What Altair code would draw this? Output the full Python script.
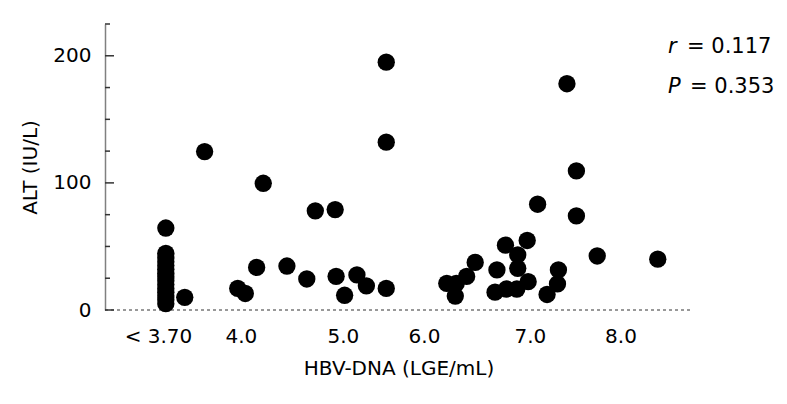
import altair as alt
import pandas as pd

# HBV-DNA (log) and ALT values
hbv = [3.19] * 15 + [3.39,
       3.60, 3.95, 4.03, 4.15, 4.22, 4.47, 4.68, 4.77, 4.98, 4.99, 5.08, 5.21,
       5.31, 5.52, 5.52, 5.52, 6.16, 6.26, 6.25, 6.37, 6.46, 6.69, 6.67, 6.78,
       7.01, 6.91, 6.91, 6.79, 6.90, 7.02, 7.12, 7.34, 7.33, 7.22, 7.43, 7.53,
       7.53, 7.75, 8.39]
alt_vals = [64.5, 44.6, 41, 38, 35, 32, 29, 26, 23, 20, 17, 14, 11, 8, 5, 10,
            124.6, 17, 13, 33.5, 99.7, 34.6, 24.4, 78, 79, 26.5, 11.6, 27.6,
            19, 17, 132, 195, 21, 21, 11, 26.4, 37.4, 31.5, 14, 51,
            54.7, 43.3, 32.8, 16.5, 16.5, 22.3, 83.2, 31.5, 20.5, 12.2, 178, 109.4,
            74, 42.5, 40]

x_tick_pos = [3.107, 3.984, 5.062, 5.919, 7.039, 7.996]
x_tick_labels = ["< 3.70", "4.0", "5.0", "6.0", "7.0", "8.0"]
y_major = [0, 100, 200]
y_minor = [25, 50, 75, 125, 150, 175, 225]
notes_var = ["r", "P"]
notes_val = ["= 0.117", "= 0.353"]

W, H = 587, 286
FONT = "DejaVu Sans"

df = pd.DataFrame({"hbv": hbv, "alt": alt_vals})

label_expr = " : ".join(
    f"abs(datum.value - {v}) < 0.001 ? '{t}'" for v, t in zip(x_tick_pos, x_tick_labels)
) + " : ''"

xscale = alt.Scale(domain=[2.547, 8.752], nice=False, zero=False)
yscale = alt.Scale(domain=[0, 225], nice=False)

points = alt.Chart(df).mark_circle(size=300, color="black", opacity=1).encode(
    x=alt.X("hbv:Q", scale=xscale,
            axis=alt.Axis(values=x_tick_pos, labelExpr=label_expr, domain=False,
                          ticks=False, grid=False, labelFontSize=20, labelFont=FONT,
                          labelColor="black", labelPadding=16, labelFlush=False,
                          labelOverlap=False,
                          title="HBV-DNA (LGE/mL)", titleFontSize=20, titleFont=FONT,
                          titleFontWeight="normal", titleColor="black", titlePadding=12)),
    y=alt.Y("alt:Q", scale=yscale,
            axis=alt.Axis(values=y_major, domain=True, domainColor="#808080",
                          domainWidth=1.5, ticks=False, grid=False,
                          labelFontSize=20, labelFont=FONT, labelColor="black",
                          labelPadding=14, labelFlush=False,
                          title="ALT (IU/L)", titleFontSize=20, titleFont=FONT,
                          titleFontWeight="normal", titleColor="black", titlePadding=12)),
)

zero_line = alt.Chart(pd.DataFrame({"y": [0]})).mark_rule(
    color="#333333", strokeDash=[3, 3], strokeWidth=1
).encode(y=alt.Y("y:Q", scale=yscale), x=alt.value(0), x2=alt.value(W))

major_ticks = alt.Chart(pd.DataFrame({"t": y_major})).mark_rule(
    color="#333333", strokeWidth=1.5
).encode(y=alt.Y("t:Q", scale=yscale), x=alt.value(0), x2=alt.value(9))

minor_ticks = alt.Chart(pd.DataFrame({"t": y_minor})).mark_rule(
    color="#333333", strokeWidth=1.5
).encode(y=alt.Y("t:Q", scale=yscale), x=alt.value(0), x2=alt.value(5))

texts = []
ys = [22.7, 62.7]
val_x = [582, 585]
for i in range(2):
    texts.append(alt.Chart(pd.DataFrame({"s": [notes_var[i]]})).mark_text(
        font=FONT, fontSize=21, fontStyle="italic", align="left", baseline="middle",
        color="black").encode(x=alt.value(563), y=alt.value(ys[i]), text="s:N"))
    texts.append(alt.Chart(pd.DataFrame({"s": [notes_val[i]]})).mark_text(
        font=FONT, fontSize=21, align="left", baseline="middle",
        color="black").encode(x=alt.value(val_x[i]), y=alt.value(ys[i]), text="s:N"))

chart = alt.layer(zero_line, major_ticks, minor_ticks, points, *texts).properties(
    width=W, height=H,
    autosize=alt.AutoSizeParams(type="none"),
    padding={"left": 97, "top": 16, "right": 85, "bottom": 70},
    background="white",
).configure_view(stroke=None)

chart.save("out.html", embed_options={"renderer": "svg", "actions": False})
